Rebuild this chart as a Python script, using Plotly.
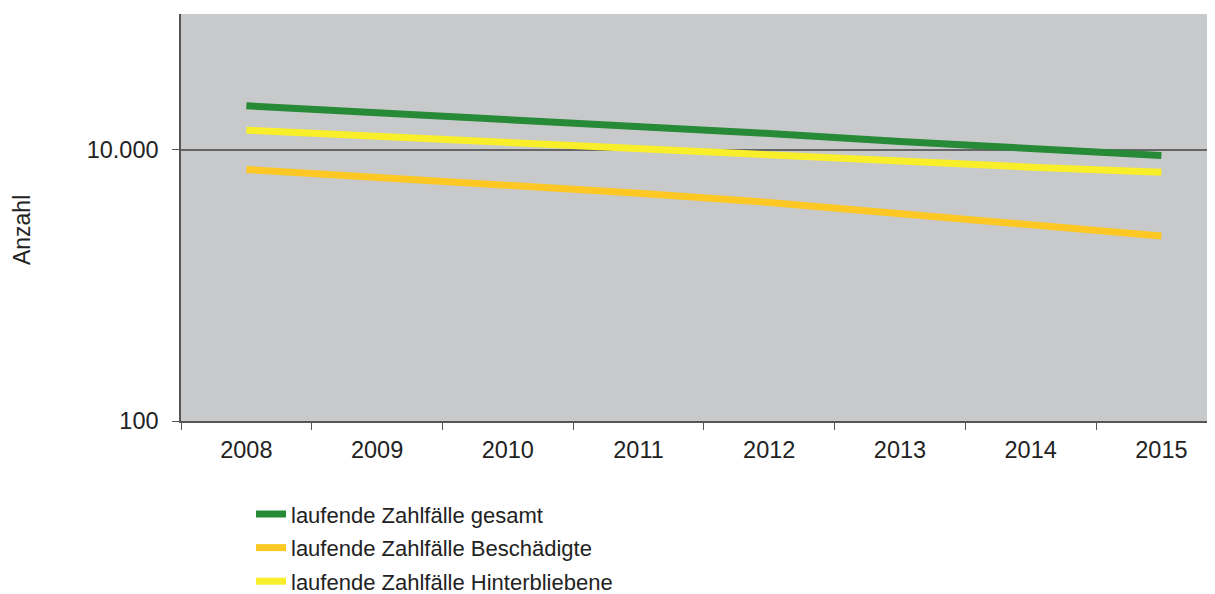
import plotly.graph_objects as go

jahre = ["2008", "2009", "2010", "2011", "2012", "2013", "2014", "2015"]
gesamt = [21040, 18820, 16800, 14830, 13170, 11500, 10260, 9060]
beschaedigte = [7140, 6300, 5530, 4780, 4080, 3400, 2835, 2310]
hinterbliebene = [13930, 12510, 11300, 10260, 9160, 8090, 7430, 6820]

serien = [
    ("laufende Zahlfälle gesamt", gesamt, "#278a37"),
    ("laufende Zahlfälle Beschädigte", beschaedigte, "#fdc823"),
    ("laufende Zahlfälle Hinterbliebene", hinterbliebene, "#f8ee2a"),
]

fig = go.Figure()
for name, werte, farbe in serien:
    # eigene legendgroup je Linie, damit tracegroupgap den Zeilenabstand vergrößert
    fig.add_trace(go.Scatter(x=jahre, y=werte, mode="lines", name=name, legendgroup=name,
                             line=dict(color=farbe, width=7)))

# Seite hat 8px Body-Rand, daher 1207x586
fig.update_layout(
    width=1207, height=586,
    margin=dict(l=173, r=0, t=6, b=173),
    paper_bgcolor="white", plot_bgcolor="#c8c9cb",
    font=dict(family="Liberation Sans, Arial, sans-serif", size=22, color="#222222"),
    showlegend=True,
    legend=dict(x=0.0677, y=0.172, xanchor="left", yanchor="top", yref="container",
                font=dict(size=22), tracegroupgap=2, bgcolor="rgba(0,0,0,0)"),
)
# Achsentitel als Annotation, da im Original nicht mittig
fig.add_annotation(text="Anzahl", textangle=-90, xref="paper", yref="paper",
                   x=-0.1538, y=0.469, xanchor="center", yanchor="middle",
                   showarrow=False, font=dict(size=23))
fig.update_xaxes(
    type="category", range=[-0.5, 7.41],
    showline=True, linecolor="#555555", linewidth=1.5,
    ticks="outside", tickson="boundaries", ticklen=7, tickcolor="#555555",
    ticklabelstandoff=7,
    showgrid=False, tickfont=dict(size=23.5),
)
fig.update_yaxes(
    type="log", range=[2, 5],
    tickvals=[100, 10000], ticktext=["100", "10.000"],
    showline=True, linecolor="#555555", linewidth=1.5,
    ticks="outside", ticklen=7, tickcolor="#555555", ticklabelstandoff=9,
    showgrid=True, gridcolor="#666666", gridwidth=1.5, zeroline=False,
    tickfont=dict(size=23.5),
)

fig.write_html("out.html")
